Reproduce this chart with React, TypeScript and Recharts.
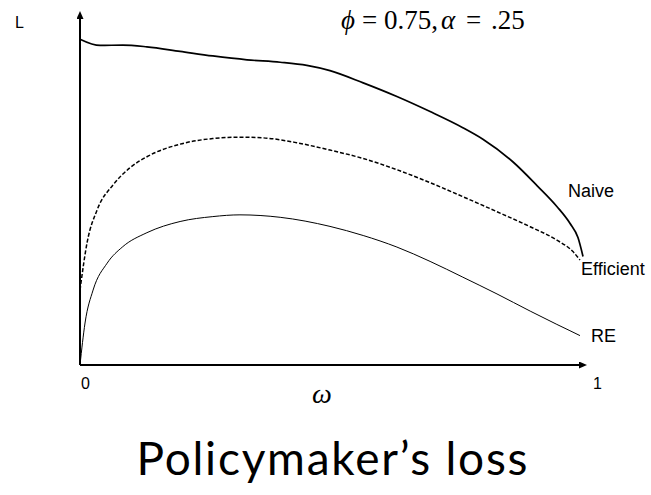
import React from 'react'
import { LineChart, Line, XAxis, YAxis, LabelList } from 'recharts'

// omega on the horizontal axis, loss L on the vertical one (0..100 scale)
const omegaNaive = [0, 0.04, 0.085, 0.133, 0.199, 0.264, 0.332, 0.398, 0.451, 0.497, 0.563, 0.63, 0.696, 0.761, 0.801, 0.861, 0.909, 0.948, 0.974, 0.99, 1.0]
const lossNaive = [93.1, 91.3, 91.4, 90.9, 89.6, 88.3, 87.2, 86.5, 85.6, 84.1, 80.6, 76.7, 72.4, 67.8, 64.5, 58.0, 51.2, 45.3, 40.5, 36.4, 31.0]

const omegaEfficient = [0, 0.014, 0.034, 0.066, 0.099, 0.133, 0.199, 0.264, 0.318, 0.364, 0.431, 0.497, 0.563, 0.63, 0.696, 0.761, 0.829, 0.895, 0.948, 0.98, 0.994]
const lossEfficient = [21.4, 34.9, 44.3, 51.5, 56.3, 59.5, 63.1, 64.7, 65.1, 64.9, 63.5, 61.4, 59.0, 55.8, 52.1, 48.1, 43.8, 39.5, 35.7, 32.4, 30.0]

const omegaRE = [0, 0.01, 0.026, 0.054, 0.085, 0.133, 0.199, 0.264, 0.318, 0.398, 0.497, 0.563, 0.63, 0.696, 0.761, 0.829, 0.895, 0.948, 0.974, 0.994]
const lossRE = [0, 12.0, 21.4, 29.1, 33.8, 37.8, 41.0, 42.4, 42.9, 42.2, 39.6, 37.0, 33.7, 29.6, 25.1, 20.3, 15.4, 11.6, 9.8, 8.4]

const xTicks = [0, 1]

const toRows = (xs: number[], ys: number[]) => xs.map((omega, i) => ({ omega, loss: ys[i] }))

const naiveData = toRows(omegaNaive, lossNaive)
const efficientData = toRows(omegaEfficient, lossEfficient)
const reData = toRows(omegaRE, lossRE)

const sans = '"Liberation Sans", Arial, sans-serif'
const serif = '"Liberation Serif", "DejaVu Serif", "Times New Roman", serif'

const endLabel = (text: string, count: number, dx: number, dy: number) => (props: any) => {
  if (props.index !== count - 1) return null
  return (
    <text x={props.x + dx} y={props.y + dy} fontFamily={sans} fontSize={18} fill="#000">
      {text}
    </text>
  )
}

const OmegaTick = (props: any) => {
  const { x, y, payload } = props
  return (
    <text x={x + (payload.value === 1 ? 10 : 1)} y={y} dy={16} fontFamily={sans} fontSize={16} fill="#000">
      {payload.value}
    </text>
  )
}

const App = () => {
  return (
    <div style={{ position: 'absolute', left: 0, top: 0, width: 651, height: 495, background: '#fff' }}>
      <LineChart width={651} height={495} margin={{ top: 15, right: 68, bottom: 90, left: 30 }}>
        <defs>
          <marker
            id="axArrow"
            viewBox="0 0 8 7"
            refX={4}
            refY={3.5}
            markerWidth={8}
            markerHeight={7}
            markerUnits="userSpaceOnUse"
            orient="auto-start-reverse"
          >
            <path d="M0,0 L8,3.5 L0,7 z" fill="#000" />
          </marker>
        </defs>
        <XAxis
          dataKey="omega"
          type="number"
          domain={[0, 1]}
          ticks={xTicks}
          tickLine={false}
          tick={<OmegaTick />}
          height={40}
          axisLine={{ stroke: '#000', strokeWidth: 2, markerEnd: 'url(#axArrow)' }}
          label={{
            value: 'ω',
            content: (p: any) => (
              <text
                x={p.viewBox.x + 242}
                y={p.viewBox.y + 38}
                textAnchor="middle"
                fontFamily={serif}
                fontStyle="italic"
                fontSize={28}
                fill="#000"
              >
                ω
              </text>
            ),
          }}
        />
        <YAxis
          type="number"
          domain={[0, 100]}
          tick={false}
          tickLine={false}
          width={50}
          axisLine={{ stroke: '#000', strokeWidth: 2, markerStart: 'url(#axArrow)' }}
          label={{
            value: 'L',
            content: (p: any) => (
              <text x={p.viewBox.x - 15} y={p.viewBox.y + 13} fontFamily={sans} fontSize={16} fill="#000">
                L
              </text>
            ),
          }}
        />
        <Line
          data={naiveData}
          dataKey="loss"
          type="monotone"
          stroke="#000"
          strokeWidth={1.7}
          dot={false}
          isAnimationActive={false}
        >
          <LabelList dataKey="loss" content={endLabel('Naive', naiveData.length, -15, -60)} />
        </Line>
        <Line
          data={efficientData}
          dataKey="loss"
          type="monotone"
          stroke="#000"
          strokeWidth={1.5}
          strokeDasharray="4 2"
          dot={false}
          isAnimationActive={false}
        >
          <LabelList dataKey="loss" content={endLabel('Efficient', efficientData.length, 1, 14.5)} />
        </Line>
        <Line
          data={reData}
          dataKey="loss"
          type="monotone"
          stroke="#000"
          strokeWidth={1}
          dot={false}
          isAnimationActive={false}
        >
          <LabelList dataKey="loss" content={endLabel('RE', reData.length, 11, 6.5)} />
        </Line>
      </LineChart>
      <svg width={651} height={495} style={{ position: 'absolute', left: 0, top: 0, pointerEvents: 'none' }}>
        <text y={29} fontFamily={serif} fontSize={27} fill="#000">
          <tspan x={341} fontStyle="italic">ϕ</tspan>
          <tspan x={362}>=</tspan>
          <tspan x={384}>0.75,</tspan>
          <tspan x={441} fontStyle="italic">α</tspan>
          <tspan x={466}>=</tspan>
          <tspan x={491}>.25</tspan>
        </text>
        <text
          x={332}
          y={475}
          textAnchor="middle"
          fontFamily='Lato, "Open Sans", sans-serif'
          fontSize={46}
          fill="#000"
          textLength={391}
          lengthAdjust="spacing"
        >
          Policymaker’s loss
        </text>
      </svg>
    </div>
  )
}

export default App
